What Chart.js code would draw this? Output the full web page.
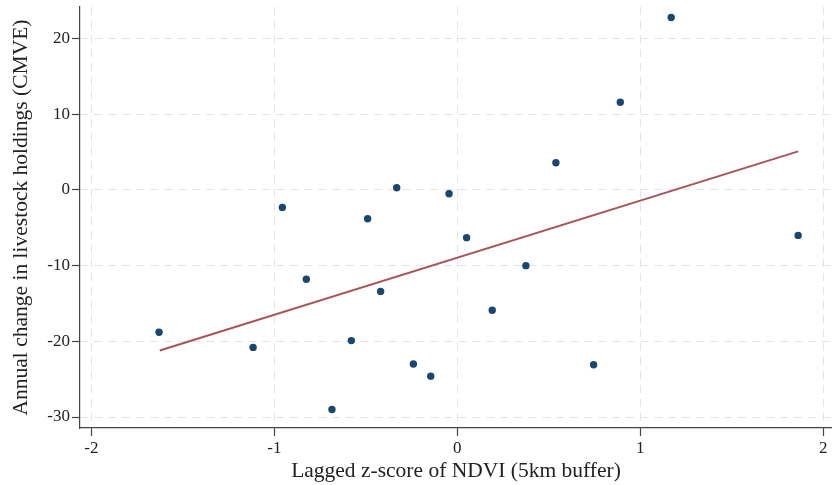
<!DOCTYPE html>
<html>
<head>
<meta charset="utf-8">
<script src="https://cdn.jsdelivr.net/npm/chart.js@4/dist/chart.umd.min.js"></script>
<style>
  html, body { margin: 0; padding: 0; background: #fff; }
  #wrap { width: 832px; height: 485px; overflow: hidden; }
</style>
</head>
<body>
<div id="wrap"><canvas id="chart" width="836" height="485"></canvas></div>
<script>
// z-score of NDVI (lagged) and annual change in livestock holdings
const ndviZ = [-1.630, -1.116, -0.956, -0.825, -0.685, -0.579, -0.490, -0.419, -0.331, -0.240,
               -0.145, -0.045, 0.051, 0.191, 0.375, 0.539, 0.745, 0.891, 1.169, 1.863];
const herdChange = [-18.8, -20.8, -2.3, -11.8, -29.0, -19.9, -3.8, -13.4, 0.3, -23.0,
                    -24.6, -0.5, -6.3, -15.9, -10.0, 3.6, -23.1, 11.6, 22.8, -6.0];

// fitted line end points
const fitX = [-1.626, 1.863];
const fitY = [-21.2, 5.1];

const xTicks = [-2, -1, 0, 1, 2];
const yTicks = [-30, -20, -10, 0, 10, 20];

const serif = "'Liberation Serif', 'Times New Roman', serif";

const pts = ndviZ.map((x, i) => ({ x: x, y: herdChange[i] }));
const fit = fitX.map((x, i) => ({ x: x, y: fitY[i] }));

function axisStyle(ticks, titleText, titlePad) {
  return {
    type: 'linear',
    afterBuildTicks: s => { s.ticks = ticks.map(v => ({ value: v })); },
    ticks: { color: '#222', font: { family: serif, size: 17 }, padding: 2, maxRotation: 0 },
    grid: { color: '#e4e4e4', lineWidth: 1, tickLength: 8, tickColor: '#444', tickWidth: 1.2 },
    border: { color: '#444', width: 1.2, dash: [8, 6] },
    title: { display: true, text: titleText, color: '#222', font: { family: serif, size: 21.5 }, padding: titlePad },
  };
}

const xScale = axisStyle(xTicks, 'Lagged z-score of NDVI (5km buffer)', { top: 0, bottom: 1 });
xScale.min = -2.062;
xScale.max = 2.048;
xScale.afterFit = s => { s.height = 57; s.paddingLeft = 0; s.paddingRight = 0; };

const yScale = axisStyle(yTicks, 'Annual change in livestock holdings (CMVE)', { top: 8, bottom: 0 });
yScale.min = -31.45;
yScale.max = 24.18;
yScale.afterFit = s => { s.width = 80; s.paddingTop = 0; s.paddingBottom = 0; };

new Chart(document.getElementById('chart').getContext('2d'), {
  type: 'scatter',
  data: {
    datasets: [
      {
        label: 'Observed',
        data: pts,
        backgroundColor: '#1a476f',
        borderColor: '#1a476f',
        pointRadius: 3.7,
        borderWidth: 0,
      },
      {
        label: 'Fitted values',
        data: fit,
        showLine: true,
        borderColor: '#a8545a',
        borderWidth: 2,
        pointRadius: 0,
      },
    ],
  },
  options: {
    responsive: false,
    animation: false,
    layout: { padding: { top: 7, right: 0, left: 0, bottom: 0 } },
    scales: { x: xScale, y: yScale },
    plugins: { legend: { display: false }, tooltip: { enabled: false } },
  },
});
</script>
</body>
</html>
